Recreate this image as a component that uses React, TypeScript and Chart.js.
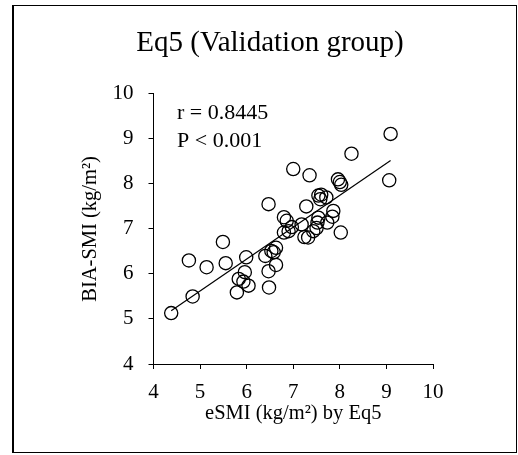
import React, { useEffect, useRef } from "react";
import { Chart, registerables } from "chart.js";

Chart.register(...registerables);

const FONT = "'Liberation Serif', 'Times New Roman', Times, serif";

const chartTitle = "Eq5 (Validation group)";
const xAxisTitle = "eSMI (kg/m²) by Eq5";
const yAxisTitle = "BIA-SMI (kg/m²)";
const statLines = ["r = 0.8445", "P < 0.001"];

const axisMin = 4;
const axisMax = 10;
const axisStep = 1;

const eSMI = [
  4.38, 4.84, 4.76, 5.14, 5.49, 5.55, 5.99, 5.96, 5.83, 5.93,
  6.04, 5.79, 6.47, 6.40, 6.47, 6.48, 6.53, 6.58, 6.63, 6.63,
  6.80, 6.86, 6.80, 6.90, 6.97, 7.00, 7.18, 7.28, 7.24, 7.32,
  7.35, 7.43, 7.50, 7.52, 7.54, 7.54, 7.60, 7.58, 7.71, 7.73,
  7.86, 7.84, 7.96, 8.00, 8.03, 8.02, 8.25, 9.09, 9.06,
];
const biaSMI = [
  5.13, 5.50, 6.30, 6.15, 6.71, 6.24, 6.37, 6.04, 5.89, 5.83,
  5.74, 5.59, 7.55, 6.40, 6.06, 5.70, 6.51, 6.48, 6.58, 6.20,
  7.26, 7.18, 6.92, 6.95, 7.04, 8.33, 7.10, 7.50, 6.82, 6.81,
  8.19, 6.95, 7.02, 7.14, 7.25, 7.74, 7.76, 7.66, 7.70, 7.14,
  7.40, 7.27, 8.10, 8.04, 7.98, 6.92, 8.67, 9.11, 8.08,
];

const fitX = [4.38, 9.09];
const fitY = [5.18, 8.52];

const decorPlugin = {
  id: "decor",
  beforeDraw(chart: any) {
    const ctx = chart.ctx;
    ctx.save();
    ctx.fillStyle = "#ffffff";
    ctx.fillRect(0, 0, chart.width, chart.height);
    ctx.strokeStyle = "#000000";
    ctx.lineWidth = 1;
    ctx.strokeRect(12.5, 5.5, 504, 447);
    ctx.beginPath();
    ctx.moveTo(13.5, 5);
    ctx.lineTo(13.5, 453);
    ctx.stroke();
    ctx.restore();
  },
  afterDraw(chart: any) {
    const ctx = chart.ctx;
    ctx.save();
    ctx.fillStyle = "#000000";
    ctx.font = `22px ${FONT}`;
    ctx.textAlign = "left";
    ctx.textBaseline = "middle";
    const x0 = chart.chartArea.left + 23.5;
    const y0 = chart.chartArea.top + 19;
    statLines.forEach((t, i) => ctx.fillText(t, x0, y0 + i * 28.5));
    ctx.restore();
  },
};

export default function App() {
  const canvasRef = useRef<HTMLCanvasElement | null>(null);

  useEffect(() => {
    if (!canvasRef.current) return;
    const points = eSMI.map((x, i) => ({ x, y: biaSMI[i] }));
    const fitLine = fitX.map((x, i) => ({ x, y: fitY[i] }));

    const chart = new Chart(canvasRef.current, {
      type: "scatter",
      data: {
        datasets: [
          {
            type: "line",
            data: fitLine,
            borderColor: "#000000",
            borderWidth: 1.2,
            pointRadius: 0,
            fill: false,
          } as any,
          {
            type: "scatter",
            data: points,
            pointStyle: "circle",
            pointRadius: 6.6,
            pointBorderWidth: 1.3,
            borderColor: "#000000",
            backgroundColor: "rgba(0,0,0,0)",
          } as any,
        ],
      },
      options: {
        responsive: false,
        animation: false,
        events: [],
        layout: { padding: { left: 22, right: 0, top: 0, bottom: 0 } },
        plugins: {
          legend: { display: false },
          tooltip: { enabled: false },
          title: {
            display: true,
            text: chartTitle,
            color: "#000000",
            font: { family: FONT, size: 29, weight: "normal" },
            padding: { top: 26, bottom: 33 },
          },
        },
        scales: {
          x: {
            type: "linear",
            position: "bottom",
            min: axisMin,
            max: axisMax,
            afterFit: (s: any) => {
              s.height = 91;
            },
            ticks: {
              stepSize: axisStep,
              color: "#000000",
              padding: 11,
              font: { family: FONT, size: 21 },
            },
            grid: {
              display: true,
              drawOnChartArea: false,
              drawTicks: true,
              tickLength: 5,
              color: "#000000",
              lineWidth: 1,
            },
            border: { display: true, color: "#000000", width: 1 },
            title: {
              display: true,
              text: xAxisTitle,
              color: "#000000",
              font: { family: FONT, size: 20.5 },
              padding: { top: 0, bottom: 29 },
            },
          },
          y: {
            type: "linear",
            position: "left",
            min: axisMin,
            max: axisMax,
            afterFit: (s: any) => {
              s.width = 131.5;
            },
            ticks: {
              stepSize: axisStep,
              color: "#000000",
              padding: 15,
              font: { family: FONT, size: 21 },
            },
            grid: {
              display: true,
              drawOnChartArea: false,
              drawTicks: true,
              tickLength: 5,
              color: "#000000",
              lineWidth: 1,
            },
            border: { display: true, color: "#000000", width: 1 },
            title: {
              display: true,
              text: yAxisTitle,
              color: "#000000",
              font: { family: FONT, size: 20.5 },
              padding: { top: 56, bottom: 0 },
            },
          },
          yRightSpace: {
            type: "linear",
            position: "right",
            display: true,
            afterFit: (s: any) => {
              s.width = 85;
            },
            ticks: { display: false },
            grid: { display: false },
            border: { display: false },
          },
        },
      } as any,
      plugins: [decorPlugin],
    });

    return () => chart.destroy();
  }, []);

  return (
    <div style={{ position: "absolute", left: 0, top: 0, width: 518, height: 455 }}>
      <canvas ref={canvasRef} width={518} height={455} style={{ display: "block", width: 518, height: 455 }} />
    </div>
  );
}
